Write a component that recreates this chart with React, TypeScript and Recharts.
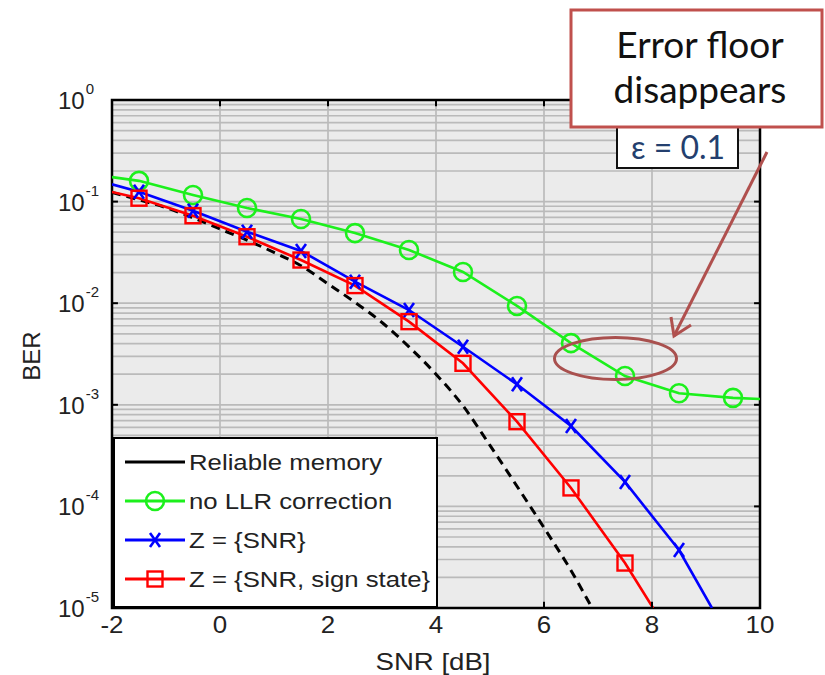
import React from 'react';
import {
  ComposedChart,
  Line,
  XAxis,
  YAxis,
  CartesianGrid,
  ReferenceLine,
  ReferenceArea,
  Legend,
  Label,
} from 'recharts';

// ---------- data ----------
const xTicks = [-2, 0, 2, 4, 6, 8, 10];
const yTicks = [1e-5, 1e-4, 1e-3, 1e-2, 1e-1, 1];
const yTickExponents = ['-5', '-4', '-3', '-2', '-1', '0'];
const markerSnr = [-1.5, -0.5, 0.5, 1.5, 2.5, 3.5, 4.5, 5.5, 6.5, 7.5, 8.5, 9.5];

const reliableSnr = [-2, -1.5, -1, -0.5, 0, 0.5, 1, 1.5, 2, 2.5, 3, 3.5, 4, 4.5, 5, 5.5, 6, 6.5, 6.89];
const reliableBer = [0.123, 0.104, 0.0871, 0.0692, 0.0537, 0.0417, 0.0316, 0.0234, 0.0155, 0.0102, 0.00646, 0.00372, 0.002, 0.000977, 0.000398, 0.000158, 0.0000617, 0.0000234, 0.00001];

const noCorrSnr = [-2, -1.5, -0.5, 0.5, 1.5, 2.5, 3.5, 4.5, 5.5, 6.5, 7.5, 8.5, 9.5, 10];
const noCorrBer = [0.174, 0.16, 0.116, 0.0865, 0.0675, 0.049, 0.0334, 0.0203, 0.0094, 0.00405, 0.00192, 0.0013, 0.00117, 0.00114];

const zSnrSnr = [-2, -1.5, -0.5, 0.5, 1.5, 2.5, 3.5, 4.5, 5.5, 6.5, 7.5, 8.5, 9.11];
const zSnrBer = [0.148, 0.125, 0.0813, 0.0506, 0.0327, 0.0163, 0.00857, 0.00373, 0.00159, 0.000618, 0.000174, 0.0000372, 0.00001];

const zSignSnr = [-2, -1.5, -0.5, 0.5, 1.5, 2.5, 3.5, 4.5, 5.5, 6.5, 7.5, 8.02];
const zSignBer = [0.1245, 0.108, 0.0726, 0.0451, 0.0266, 0.0149, 0.00658, 0.00256, 0.000682, 0.000152, 0.0000277, 0.00001];

const seriesNames = ['Reliable memory', 'no LLR correction', 'Z = {SNR}', 'Z = {SNR, sign state}'];
const seriesColors = ['#000000', '#1cf01c', '#0000ff', '#ff0000'];
const seriesMarkers = ['none', 'circle', 'cross', 'square'];

const minorMantissas = [1, 2, 3, 4, 5, 6, 7, 8, 9];
const decadeExps = [-5, -4, -3, -2, -1];

// ---------- helpers ----------
const toRows = (xs: number[], ys: number[]) =>
  xs.map((x, i) => ({ x, y: ys[i], m: markerSnr.includes(x) }));

const reliableData = toRows(reliableSnr, reliableBer);
const noCorrData = toRows(noCorrSnr, noCorrBer);
const zSnrData = toRows(zSnrSnr, zSnrBer);
const zSignData = toRows(zSignSnr, zSignBer);

const minorGridValues: number[] = [];
decadeExps.forEach((e) => {
  minorMantissas.forEach((m) => {
    const v = m * Math.pow(10, e);
    if (v > 1e-5 && v < 1) minorGridValues.push(v);
  });
});

const FONT = '"Liberation Sans", Arial, Helvetica, sans-serif';
const ANNO_FONT = 'Lato, "Open Sans", sans-serif';

function Marker({ kind, cx, cy, color }: { kind: string; cx: number; cy: number; color: string }) {
  if (kind === 'circle') {
    return <circle cx={cx} cy={cy} r={9} fill="none" stroke={color} strokeWidth={2.6} />;
  }
  if (kind === 'square') {
    return <rect x={cx - 7.5} y={cy - 7.5} width={15} height={15} fill="none" stroke={color} strokeWidth={2.4} />;
  }
  if (kind === 'cross') {
    return (
      <g stroke={color} strokeWidth={2.6}>
        <line x1={cx - 5} y1={cy - 7} x2={cx + 5} y2={cy + 7} />
        <line x1={cx - 5} y1={cy + 7} x2={cx + 5} y2={cy - 7} />
      </g>
    );
  }
  return null;
}

const makeDot = (kind: string, color: string) => (props: any) => {
  const { cx, cy, payload, index } = props;
  if (!payload || !payload.m || cx == null || cy == null || kind === 'none') {
    return <g key={`e-${kind}-${index}`} />;
  }
  return (
    <g key={`d-${kind}-${index}`}>
      <Marker kind={kind} cx={cx} cy={cy} color={color} />
    </g>
  );
};

const renderYTick = (props: any) => {
  const { y, payload } = props;
  const idx = yTicks.indexOf(payload.value);
  const exp = idx >= 0 ? yTickExponents[idx] : '';
  return (
    <g>
      <text x={58} y={y + 9} fontFamily={FONT} fontSize={24} fill="#222">
        10
        <tspan dx={1} dy={-15} fontSize={15}>
          {exp}
        </tspan>
      </text>
    </g>
  );
};

const renderXTick = (props: any) => {
  const { x, payload } = props;
  return (
    <text
      transform={`translate(${x}, 633) scale(1.08, 1)`}
      textAnchor="middle"
      fontFamily={FONT}
      fontSize={24}
      fill="#222"
    >
      {payload.value}
    </text>
  );
};

const renderXLabel = (props: any) => {
  const vb = props.viewBox || { x: 112, width: 648 };
  const cx = vb.x + vb.width / 2;
  return (
    <text
      transform={`translate(${cx - 3}, 670) scale(1.2, 1)`}
      textAnchor="middle"
      fontFamily={FONT}
      fontSize={23}
      fill="#222"
    >
      SNR [dB]
    </text>
  );
};

const renderYLabel = () => (
  <text
    transform="translate(31, 356) rotate(-90)"
    textAnchor="middle"
    dominantBaseline="central"
    fontFamily={FONT}
    fontSize={24}
    fill="#222"
  >
    BER
  </text>
);

const renderLegend = (props: any) => {
  const payload = [...(props.payload || [])].sort(
    (a: any, b: any) => seriesNames.indexOf(a.value) - seriesNames.indexOf(b.value)
  );
  const rowYs = [23, 62, 101, 140];
  return (
    <div
      style={{
        width: 325,
        height: 171,
        background: '#fff',
        border: '2px solid #000',
        boxSizing: 'border-box',
      }}
    >
      <svg width={321} height={167} style={{ display: 'block' }}>
        {payload.map((entry: any, i: number) => {
          const idx = seriesNames.indexOf(entry.value);
          const color = idx >= 0 ? seriesColors[idx] : entry.color;
          const kind = idx >= 0 ? seriesMarkers[idx] : 'none';
          const cy = rowYs[i] ?? 23 + i * 39;
          return (
            <g key={`leg-${i}`}>
              <line x1={10} x2={70} y1={cy} y2={cy} stroke={color} strokeWidth={2.8} />
              <Marker kind={kind} cx={40} cy={cy} color={color} />
              <text
                transform={`translate(74, ${cy + 8}) scale(1.12, 1)`}
                fontFamily={FONT}
                fontSize={23}
                fill="#222"
              >
                {entry.value}
              </text>
            </g>
          );
        })}
      </svg>
    </div>
  );
};

export default function App() {
  return (
    <div style={{ position: 'absolute', left: 0, top: 0, width: 825, height: 675, background: '#fff' }}>
      <ComposedChart width={825} height={675} margin={{ top: 100, right: 65, bottom: 27, left: 12 }}>
        <XAxis
          type="number"
          dataKey="x"
          domain={[-2, 10]}
          ticks={xTicks}
          interval={0}
          allowDataOverflow
          axisLine={false}
          tickLine={false}
          height={40}
          tick={renderXTick}
        >
          <Label content={renderXLabel} />
        </XAxis>
        <YAxis
          type="number"
          scale="log"
          domain={[1e-5, 1]}
          ticks={yTicks}
          interval={0}
          allowDataOverflow
          axisLine={false}
          tickLine={false}
          width={100}
          tick={renderYTick}
        >
          <Label content={renderYLabel} />
        </YAxis>
        <YAxis
          yAxisId="minor"
          type="number"
          scale="log"
          domain={[1e-5, 1]}
          ticks={minorGridValues}
          interval={0}
          allowDataOverflow
          hide
        />
        <CartesianGrid horizontal={false} vertical fill="#ebebeb" stroke="#b4b4b4" strokeWidth={1.5} />
        <CartesianGrid yAxisId="minor" horizontal vertical={false} stroke="#bababa" strokeWidth={1.7} />

        <Line
          name={seriesNames[0]}
          data={reliableData}
          dataKey="y"
          stroke={seriesColors[0]}
          strokeWidth={3}
          strokeDasharray="9 6"
          type="monotone"
          dot={makeDot(seriesMarkers[0], seriesColors[0])}
          activeDot={false}
          isAnimationActive={false}
        />
        <Line
          name={seriesNames[1]}
          data={noCorrData}
          dataKey="y"
          stroke={seriesColors[1]}
          strokeWidth={2.6}
          type="linear"
          dot={makeDot(seriesMarkers[1], seriesColors[1])}
          activeDot={false}
          isAnimationActive={false}
        />
        <Line
          name={seriesNames[2]}
          data={zSnrData}
          dataKey="y"
          stroke={seriesColors[2]}
          strokeWidth={2.6}
          type="linear"
          dot={makeDot(seriesMarkers[2], seriesColors[2])}
          activeDot={false}
          isAnimationActive={false}
        />
        <Line
          name={seriesNames[3]}
          data={zSignData}
          dataKey="y"
          stroke={seriesColors[3]}
          strokeWidth={2.6}
          type="linear"
          dot={makeDot(seriesMarkers[3], seriesColors[3])}
          activeDot={false}
          isAnimationActive={false}
        />

        <ReferenceArea x1={-2} x2={10} y1={1e-5} y2={1} fill="none" stroke="#000" strokeWidth={2.5} />
        {[0, 2, 4, 6, 8].map((v) => (
          <ReferenceLine key={`bt${v}`} segment={[{ x: v, y: 1e-5 }, { x: v, y: 1.15e-5 }]} stroke="#000" strokeWidth={2} />
        ))}
        {[0, 2, 4, 6, 8].map((v) => (
          <ReferenceLine key={`tt${v}`} segment={[{ x: v, y: 1 }, { x: v, y: 0.87 }]} stroke="#000" strokeWidth={2} />
        ))}
        {[1e-4, 1e-3, 1e-2, 1e-1].map((v) => (
          <ReferenceLine key={`lt${v}`} segment={[{ x: -2, y: v }, { x: -1.89, y: v }]} stroke="#000" strokeWidth={2} />
        ))}
        {[1e-4, 1e-3, 1e-2, 1e-1].map((v) => (
          <ReferenceLine key={`rt${v}`} segment={[{ x: 10, y: v }, { x: 9.89, y: v }]} stroke="#000" strokeWidth={2} />
        ))}

        <Legend
          layout="vertical"
          align="center"
          verticalAlign="middle"
          content={renderLegend}
          wrapperStyle={{ position: 'absolute', left: 113, top: 437, width: 325, height: 171 }}
        />
      </ComposedChart>

      <svg
        width={825}
        height={675}
        style={{ position: 'absolute', left: 0, top: 0, pointerEvents: 'none' }}
      >
        <ellipse cx={615.5} cy={358.5} rx={61} ry={21} fill="none" stroke="#a9504e" strokeWidth={3} />
        <line x1={767} y1={152} x2={674} y2={336} stroke="#b0504e" strokeWidth={3} />
        <polyline points="671,317 674,336 691,325" fill="none" stroke="#b0504e" strokeWidth={3} />

        <rect x={617} y={116} width={121} height={52} fill="#fff" stroke="#111" strokeWidth={2} />
        <text x={678} y={159} textAnchor="middle" fontFamily={ANNO_FONT} fontSize={32} fill="#243f6e">
          ε = 0.1
        </text>

        <rect x={571} y={10} width={251} height={117} fill="#fff" stroke="#c0504d" strokeWidth={3} />
        <text x={700} y={58} textAnchor="middle" fontFamily={ANNO_FONT} fontSize={37} fill="#111">
          Error floor
        </text>
        <text x={700} y={103} textAnchor="middle" fontFamily={ANNO_FONT} fontSize={37} fill="#111">
          disappears
        </text>
      </svg>
    </div>
  );
}
